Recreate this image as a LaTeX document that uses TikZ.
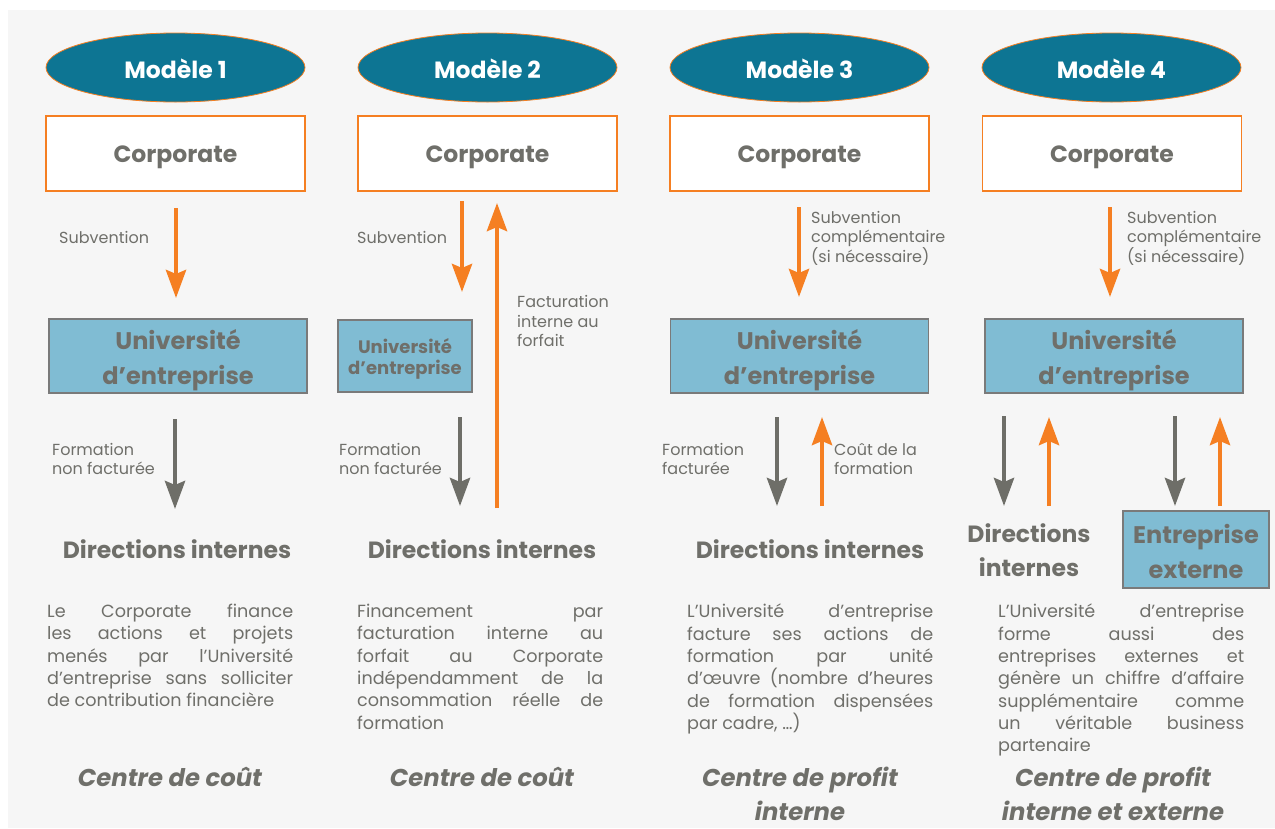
\documentclass[tikz,border=0pt]{standalone}
\usepackage{fontspec}
\setmainfont{Poppins}
\usetikzlibrary{shapes.geometric,arrows.meta}
\definecolor{bg}{HTML}{F6F6F6}
\definecolor{teal}{HTML}{0D7593}
\definecolor{orng}{HTML}{F57F22}
\definecolor{lblue}{HTML}{80BCD3}
\definecolor{txt}{HTML}{6F6F6A}
\definecolor{garr}{HTML}{6E6E68}
\definecolor{bbord}{HTML}{7A7A7A}
\newcommand\myparafont{\fontsize{17.6}{22.3}\selectfont\hyphenpenalty 10000 \exhyphenpenalty 10000 \tolerance 10000 \hbadness 10000 }
\tikzset{
  modele/.style={ellipse,fill=teal,draw=orng,line width=0.8pt,minimum width=259pt,minimum height=69pt,inner sep=0pt},
  modtxt/.style={text=white,inner sep=0pt,font=\fontsize{23.5}{28}\selectfont\bfseries},
  corp/.style={rectangle,fill=white,draw=orng,line width=1.2pt,minimum width=259pt,minimum height=75pt,inner sep=0pt},
  corptxt/.style={text=txt,inner sep=0pt,font=\fontsize{23.5}{28}\selectfont\bfseries},
  univ/.style={rectangle,fill=lblue,draw=bbord,line width=1.2pt,minimum width=258pt,minimum height=74pt,inner sep=0pt},
  univtxt/.style={text=txt,align=center,inner sep=0pt,font=\fontsize{24}{35}\selectfont\bfseries},
  head/.style={text=txt,align=center,inner sep=0pt,font=\fontsize{23.5}{34}\selectfont\bfseries},
  centre/.style={text=txt,align=center,inner sep=0pt,font=\fontsize{24.3}{34}\selectfont\bfseries\itshape},
  lbl/.style={text=txt,align=left,inner sep=0pt,anchor=west,font=\fontsize{16}{19.5}\selectfont},
  para/.style={text=txt,inner sep=0pt,anchor=north west,text width=246pt,align=justify,font=\myparafont},
  oarr/.style={draw=orng,line width=4.5pt,-{Stealth[width=20pt,length=28pt,inset=4pt]}},
  garrow/.style={draw=garr,line width=4.5pt,-{Stealth[width=20pt,length=28pt,inset=4pt]}}
}
\begin{document}
\begin{tikzpicture}[x=1pt,y=-1pt]
\useasboundingbox (0,0) rectangle (1275,828);
\fill[white] (0,0) rectangle (1275,828);
\fill[bg] (8,10) rectangle (1275,828);

% ---------- Column 1 ----------
\node[modele] (m1) at (175.5,67.5) {};
\node[modtxt] (m1t) at ([yshift=-1.5pt]m1.center) {Modèle 1};
\node[corp] (c1) at (175.5,153.5) {};
\node[corptxt] (c1t) at ([yshift=-4pt]c1.center) {Corporate};
\coordinate (c1a) at (176,208); \coordinate (c1b) at (176,298);
\draw[oarr] (c1a) -- (c1b);
\node[lbl] (l1a) at (59,237) {Subvention};
\node[univ] (u1) at (178,356) {};
\node[univtxt] (u1t) at ([yshift=-4pt]u1.center) {Université\\d’entreprise};
\coordinate (g1a) at (175,419); \coordinate (g1b) at (175,509);
\draw[garrow] (g1a) -- (g1b);
\node[lbl] (l1b) at (52,459) {Formation\\non facturée};
\node[head] (d1) at (177,549) {Directions internes};
\node[para] (p1) at (47,604) {Le Corporate finance\linebreak les actions et projets\linebreak menés par l’Université\linebreak d’entreprise sans solliciter\linebreak de contribution financière};
\node[centre] (ct1) at (170,777) {Centre de coût};

% ---------- Column 2 ----------
\node[modele] (m2) at (487.5,67.5) {};
\node[modtxt] (m2t) at ([yshift=-1.5pt]m2.center) {Modèle 2};
\node[corp] (c2) at (487.5,153.5) {};
\node[corptxt] (c2t) at ([yshift=-4pt]c2.center) {Corporate};
\coordinate (c2a) at (462,201); \coordinate (c2b) at (462,292);
\draw[oarr] (c2a) -- (c2b);
\node[lbl] (l2a) at (357,237) {Subvention};
\coordinate (f2a) at (497,508); \coordinate (f2b) at (497,203);
\draw[oarr] (f2a) -- (f2b);
\node[lbl] (l2f) at (517,321) {Facturation\\interne au\\forfait};
\node[univ,minimum width=134pt,minimum height=72pt] (u2) at (405,356) {};
\node[univtxt,font=\fontsize{18}{21}\selectfont\bfseries] (u2t) at ([yshift=-3pt]u2.center) {Université\\d’entreprise};
\coordinate (g2a) at (460,417); \coordinate (g2b) at (460,506);
\draw[garrow] (g2a) -- (g2b);
\node[lbl] (l2b) at (339,459) {Formation\\non facturée};
\node[head] (d2) at (482,549) {Directions internes};
\node[para] (p2) at (357,604) {Financement par\linebreak facturation interne au\linebreak forfait au Corporate\linebreak indépendamment de la\linebreak consommation réelle de\linebreak formation};
\node[centre] (ct2) at (482,777) {Centre de coût};

% ---------- Column 3 ----------
\node[modele] (m3) at (799.5,67.5) {};
\node[modtxt] (m3t) at ([yshift=-1.5pt]m3.center) {Modèle 3};
\node[corp] (c3) at (799.5,153.5) {};
\node[corptxt] (c3t) at ([yshift=-4pt]c3.center) {Corporate};
\coordinate (c3a) at (799,207); \coordinate (c3b) at (799,297);
\draw[oarr] (c3a) -- (c3b);
\node[lbl] (l3a) at (811,238) {Subvention\\complémentaire\\(si nécessaire)};
\node[univ] (u3) at (799.5,356) {};
\node[univtxt] (u3t) at ([yshift=-4pt]u3.center) {Université\\d’entreprise};
\coordinate (g3a) at (777,417); \coordinate (g3b) at (777,506);
\draw[garrow] (g3a) -- (g3b);
\node[lbl] (l3b) at (662,459) {Formation\\facturée};
\coordinate (o3a) at (822,506); \coordinate (o3b) at (822,417);
\draw[oarr] (o3a) -- (o3b);
\node[lbl] (l3c) at (834,459) {Coût de la\\formation};
\node[head] (d3) at (810,549) {Directions internes};
\node[para] (p3) at (687,604) {L’Université d’entreprise\linebreak facture ses actions de\linebreak formation par unité\linebreak d’œuvre (nombre d’heures\linebreak de formation dispensées\linebreak par cadre, …)};
\node[centre] (ct3) at (800,794) {Centre de profit\\interne};

% ---------- Column 4 ----------
\node[modele] (m4) at (1111.5,67.5) {};
\node[modtxt] (m4t) at ([yshift=-1.5pt]m4.center) {Modèle 4};
\node[corp] (c4) at (1112,153.5) {};
\node[corptxt] (c4t) at ([yshift=-4pt]c4.center) {Corporate};
\coordinate (c4a) at (1110,207); \coordinate (c4b) at (1110,297);
\draw[oarr] (c4a) -- (c4b);
\node[lbl] (l4a) at (1127,238) {Subvention\\complémentaire\\(si nécessaire)};
\node[univ] (u4) at (1114,356) {};
\node[univtxt] (u4t) at ([yshift=-4pt]u4.center) {Université\\d’entreprise};
\coordinate (g4a) at (1004,416); \coordinate (g4b) at (1004,506);
\draw[garrow] (g4a) -- (g4b);
\coordinate (o4a) at (1049,506); \coordinate (o4b) at (1049,417);
\draw[oarr] (o4a) -- (o4b);
\coordinate (g5a) at (1175,416); \coordinate (g5b) at (1175,506);
\draw[garrow] (g5a) -- (g5b);
\coordinate (o5a) at (1220,506); \coordinate (o5b) at (1220,417);
\draw[oarr] (o5a) -- (o5b);
\node[head] (d4) at (1029,550) {Directions\\internes};
\node[univ,minimum width=146pt,minimum height=77pt] (e4) at (1196,549.5) {};
\node[univtxt] (e4t) at ([yshift=-1.5pt]e4.center) {Entreprise\\externe};
\node[para] (p4) at (998,604) {L’Université d’entreprise\linebreak forme aussi des\linebreak entreprises externes et\linebreak génère un chiffre d’affaire\linebreak supplémentaire comme\linebreak un véritable business\linebreak partenaire};
\node[centre] (ct4) at (1113,794) {Centre de profit\\interne et externe};
\end{tikzpicture}
\end{document}
